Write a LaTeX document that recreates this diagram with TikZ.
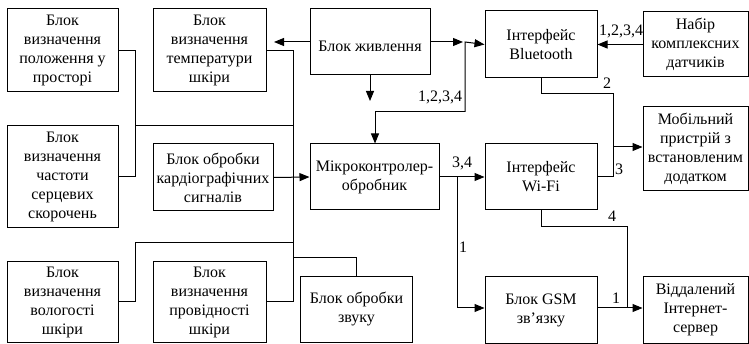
\documentclass[tikz,border=0pt]{standalone}
\usepackage{fontspec}
\setmainfont{Liberation Serif}
\usetikzlibrary{arrows.meta}
\begin{document}
\begin{tikzpicture}[x=1pt,y=-1pt,
  blk/.style={draw,line width=1pt,inner sep=0pt,align=center,
    font=\fontsize{16}{19}\selectfont,
    execute at begin node={\rule{0pt}{20pt}}},
  ln/.style={line width=1pt},
  arr/.style={line width=1pt,-{Triangle[length=10pt,width=8pt]}},
  lbl/.style={font=\fontsize{16}{17}\selectfont,inner sep=0pt}]
\useasboundingbox (0,0) rectangle (749,344);
% boxes
\node[blk,minimum width=111pt,minimum height=83pt] (A) at (62.5,50.5) {Блок\\визначення\\положення у\\просторі};
\node[blk,minimum width=113pt,minimum height=83pt] (B) at (209.5,50.5) {Блок\\визначення\\температури\\шкіри};
\node[blk,minimum width=120pt,minimum height=66pt] (P) at (370,42) {Блок живлення};
\node[blk,minimum width=112pt,minimum height=67pt] (BT) at (541,44.5) {Інтерфейс\\Bluetooth};
\node[blk,minimum width=105pt,minimum height=65pt] (N) at (695.5,44.5) {Набір\\комплексних\\датчиків};
\node[blk,minimum width=111pt,minimum height=102pt] (C) at (62.5,177) {Блок\\визначення\\частоти\\серцевих\\скорочень};
\node[blk,minimum width=120pt,minimum height=67pt] (D) at (213,177.5) {Блок обробки\\кардіографічних\\сигналів};
\node[blk,minimum width=129pt,minimum height=66pt] (M) at (374.5,177) {Мікроконтролер-\\обробник};
\node[blk,minimum width=112pt,minimum height=66pt] (W) at (541,177) {Інтерфейс\\Wi-Fi};
\node[blk,minimum width=105pt,minimum height=84pt] (Mob) at (695.5,149) {Мобільний\\пристрій з\\встановленим\\додатком};
\node[blk,minimum width=111pt,minimum height=80pt] (E) at (62.5,302) {Блок\\визначення\\вологості\\шкіри};
\node[blk,minimum width=113pt,minimum height=80pt] (F) at (209.5,302) {Блок\\визначення\\провідності\\шкіри};
\node[blk,minimum width=112pt,minimum height=65pt] (S) at (356.5,309.5) {Блок обробки\\звуку};
\node[blk,minimum width=112pt,minimum height=66pt] (G) at (541,310) {Блок GSM\\зв’язку};
\node[blk,minimum width=105pt,minimum height=66pt] (R) at (695.5,310) {Віддалений\\Інтернет-\\сервер};
% coordinates
\coordinate (xa) at (135,126);
\coordinate (bus) at (293,126);
\coordinate (xe) at (135,243);
\coordinate (bue) at (293,243);
\coordinate (bsnd) at (293,258);
\coordinate (pl) at (274,42);
\coordinate (pd) at (370,101);
\coordinate (pr) at (463,42);
\coordinate (jb) at (465,42);
\coordinate (jm) at (465,112);
\coordinate (jmd) at (375,112);
\coordinate (j2) at (613,94);
\coordinate (j3) at (613,147);
\coordinate (jw) at (457,177);
\coordinate (j4) at (627,227);
% left side bus
\draw[ln] (A.east |- 0,51) -| (135,177) -- (C.east |- 0,177);
\draw[ln] (xa) -- (bus);
\draw[ln] (B.east |- 0,51) -| (293,302) -- (F.east |- 0,302);
\draw[ln] (E.east |- 0,302) -| (xe) -- (bue);
\draw[ln] (bsnd) -| (S.north);
\draw[arr] (D.east) -- (M.west);
% power
\draw[arr] (P.west) -- (pl);
\draw[arr] (P.south) -- (pd);
\draw[arr] (P.east) -- (pr);
\draw[arr] (jm) -- (jb) -- (BT.west);
\draw[arr] (jm) -- (jmd) -- (M.north -| jmd);
\node[lbl] at (440,97) {1,2,3,4};
% sensors
\draw[arr] (N.west) -- (BT.east);
\node[lbl] at (621,31) {1,2,3,4};
% bluetooth to mobile
\draw[ln] (BT.south) |- (j2) -- (613,177) -- (W.east);
\draw[arr] (j3) -- (j3 -| Mob.west);
\node[lbl] at (607,83) {2};
\node[lbl] at (619,169) {3};
% micro to wifi and gsm
\draw[arr] (M.east) -- (W.west);
\node[lbl] at (462,163) {3,4};
\draw[arr] (jw) |- (G.west |- 0,308);
\node[lbl] at (463,247) {1};
% wifi to server
\draw[ln] (W.south) |- (j4) -- (627,308);
\node[lbl] at (612,216) {4};
\draw[arr] (G.east |- 0,308) -- (R.west |- 0,308);
\node[lbl] at (616,298) {1};
\end{tikzpicture}
\end{document}
